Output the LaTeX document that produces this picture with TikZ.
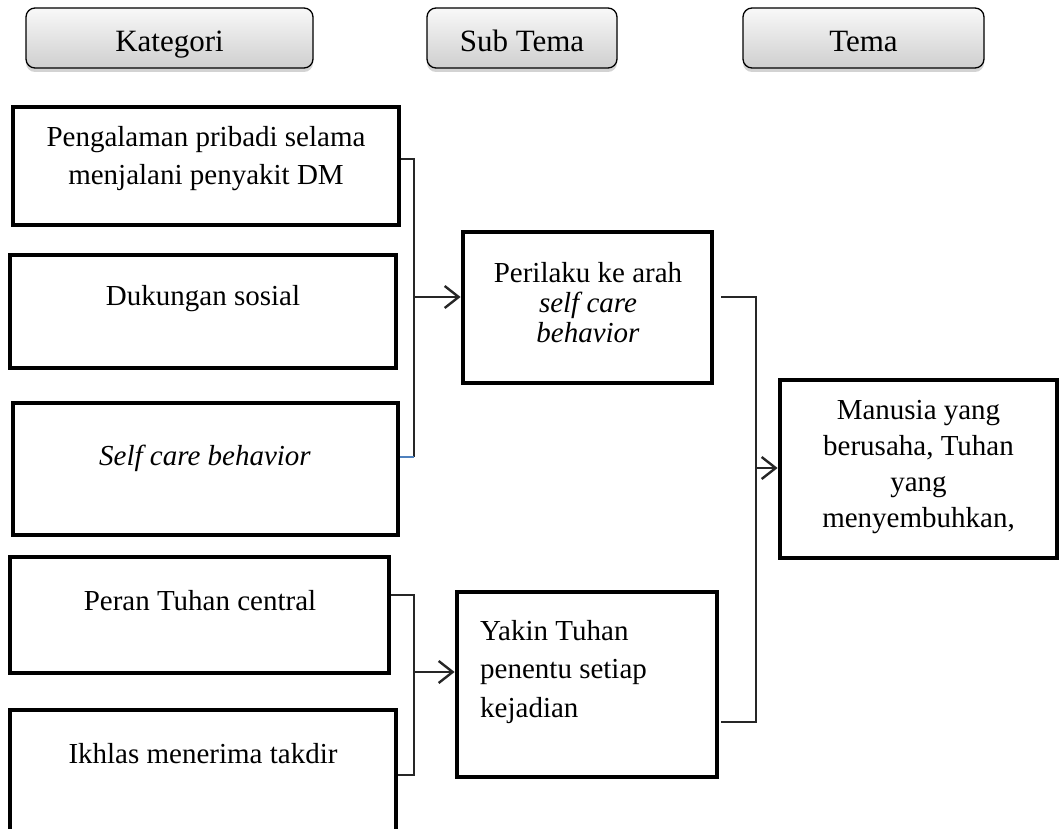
\documentclass[tikz,border=0pt]{standalone}
\usepackage{fontspec}
\setmainfont{Liberation Serif}
\usetikzlibrary{arrows.meta,shadows,calc}
\definecolor{blueline}{HTML}{4F81BD}
\begin{document}
\begin{tikzpicture}[x=1pt,y=-1pt,
  hdr/.style={draw=black, line width=1.3pt, rounded corners=9pt, top color=gray!5, bottom color=gray!38,
    drop shadow={opacity=0.35, shadow xshift=0pt, shadow yshift=-4pt}, inner sep=0pt},
  hdrtext/.style={font=\fontsize{31}{36}\selectfont, anchor=base, inner sep=0pt},
  box/.style={draw=black, line width=4.8pt, inner sep=0pt},
  txt/.style={font=\fontsize{29}{38}\selectfont, align=center, anchor=base, inner sep=0pt},
  link/.style={draw=black!85, line width=1.5pt},
  arr/.style={link, -{Straight Barb[length=14pt,width=22pt,line width=2.4pt]}},
]
\useasboundingbox (0,0) rectangle (1060,829);

% headers
\node[hdr, minimum width=287, minimum height=60] (h1) at (169.5,38) {};
\node[hdr, minimum width=190, minimum height=60] (h2) at (522,38) {};
\node[hdr, minimum width=241, minimum height=60] (h3) at (863.5,38) {};
\node[hdrtext] (h1t) at (169.5,52) {Kategori};
\node[hdrtext] (h2t) at (522,52) {Sub Tema};
\node[hdrtext] (h3t) at (863.5,52) {Tema};

% category boxes
\node[box, minimum width=386, minimum height=118] (b1) at (206,166) {};
\node[box, minimum width=386, minimum height=113] (b2) at (203,311.5) {};
\node[box, minimum width=385, minimum height=132] (b3) at (205.5,469) {};
\node[box, minimum width=379, minimum height=116] (b4) at (199.5,615) {};
\node[box, minimum width=386, minimum height=140] (b5) at (203,780) {};
% sub theme boxes
\node[box, minimum width=249, minimum height=151] (s1) at (587.5,307.5) {};
\node[box, minimum width=260, minimum height=185] (s2) at (587,684.5) {};
% theme box
\node[box, minimum width=277, minimum height=178] (t1) at (918.5,469) {};

% texts (base anchor = baseline of the last line)
\node[txt] (tb1) at (206,185) {Pengalaman pribadi selama\\menjalani penyakit DM};
\node[txt] (tb2) at (203,305) {Dukungan sosial};
\node[txt] (tb3) at (205,465) {\itshape Self care behavior};
\node[txt] (tb4) at (200,610) {Peran Tuhan central};
\node[txt] (tb5) at (203,763) {Ikhlas menerima takdir};
\node[txt, font=\fontsize{29}{30}\selectfont] (ts1) at (588,342) {Perilaku ke arah\\\textit{self care}\\\textit{behavior}};
\node[txt, align=left, anchor=base west, font=\fontsize{29}{38.5}\selectfont] (ts2) at (480,717) {Yakin Tuhan\\penentu setiap\\kejadian};
\node[txt, font=\fontsize{29}{36}\selectfont] (tt1) at (918.5,527) {Manusia yang\\berusaha, Tuhan\\yang\\menyembuhkan,};

% bracket 1
\coordinate (v1) at (414,159);
\coordinate (v2) at (414,457);
\coordinate (a1) at (414,297);
\draw[link] (b1.east |- v1) -- (v1) -- (v2);
\draw[link, draw=blueline] (v2) -- (b3.east |- v2);
\draw[arr] (a1) -- (a1 -| s1.west);

% bracket 2
\coordinate (v3) at (414,595);
\coordinate (v4) at (414,775);
\coordinate (a2) at (414,672);
\draw[link] (b4.east |- v3) -- (v3) -- (v4) -- (b5.east |- v4);
\draw[arr] (a2) -- (a2 -| s2.west);

% bracket 3
\coordinate (v5) at (756,297);
\coordinate (v6) at (756,722);
\coordinate (a3) at (756,468);
\draw[link] ($(s1.east |- v5)+(7,0)$) -- (v5) -- (v6) -- ($(s2.east |- v6)+(2,0)$);
\draw[arr] (a3) -- (a3 -| t1.west);
\end{tikzpicture}
\end{document}
